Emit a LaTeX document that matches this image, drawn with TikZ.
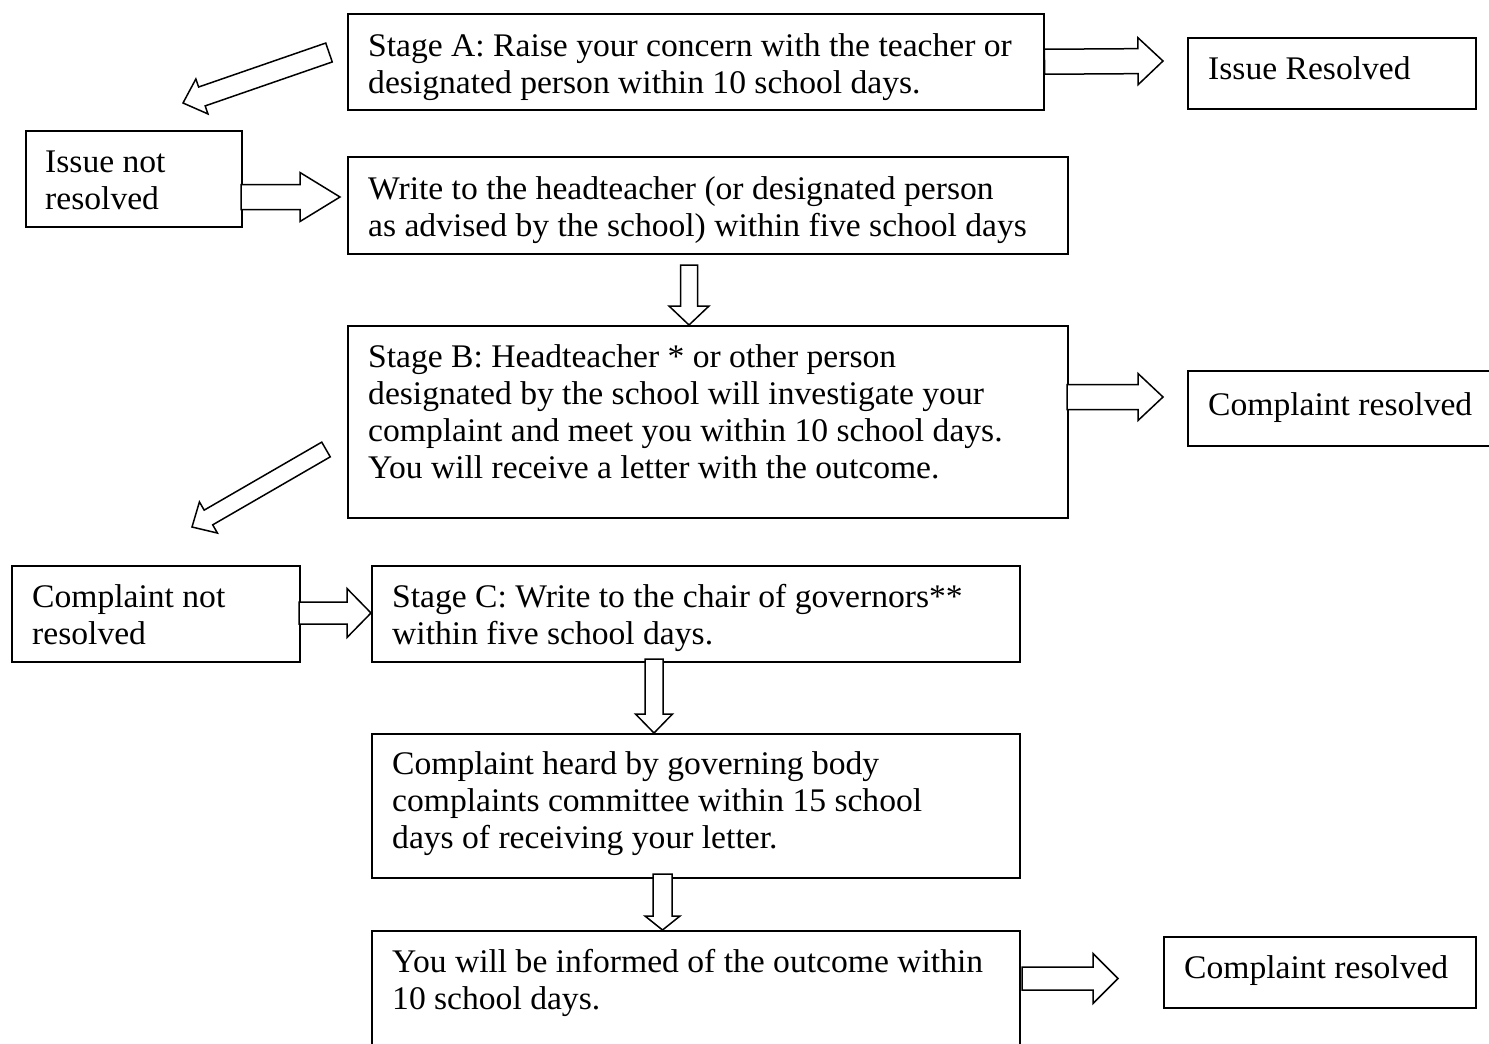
\documentclass[tikz,border=0pt]{standalone}
\usepackage{fontspec}
\setmainfont[FakeStretch=1.018]{Liberation Serif}
\usetikzlibrary{calc}
\newcommand\blockarr[5]{%
  \path let \p1=#1, \p2=#2, \n1={atan2(\y2-\y1,\x2-\x1)}, \n2={veclen(\x2-\x1,\y2-\y1)} in
    \pgfextra{\xdef\barang{\n1}\xdef\barlen{\n2}\xdef\barx{\x1}\xdef\bary{\y1}};
  \draw[barrow, shift={(\barx,\bary)}, rotate=\barang]
    (0,#3) -- (\barlen-#5,#3) -- (\barlen-#5,#4) -- (\barlen,0) --
    (\barlen-#5,-#4) -- (\barlen-#5,-#3) -- (0,-#3) -- cycle;}
\begin{document}
\begin{tikzpicture}[x=1pt,y=-1pt,
  box/.style={draw, line width=1.5pt, inner sep=0, anchor=north west},
  txt/.style={anchor=base west, align=left, inner sep=0, font=\fontsize{33}{36.7}\selectfont},
  barrow/.style={draw, line width=1.5pt, line join=miter, fill=white}]
\useasboundingbox (0,0) rectangle (1489,1044);
% boxes
\node[box, minimum width=696, minimum height=96] (A) at (347,13) {};
\node[box, minimum width=288, minimum height=71] (IR) at (1187,37) {};
\node[box, minimum width=216, minimum height=96] (INR) at (25,130) {};
\node[box, minimum width=720, minimum height=97] (W) at (347,156) {};
\node[box, minimum width=720, minimum height=192] (B) at (347,325) {};
\node[box, minimum width=320, minimum height=75] (CR1) at (1187,370) {};
\node[box, minimum width=288, minimum height=96] (CNR) at (11,565) {};
\node[box, minimum width=648, minimum height=96] (C) at (371,565) {};
\node[box, minimum width=648, minimum height=144] (H) at (371,733) {};
\node[box, minimum width=648, minimum height=140] (O) at (371,930) {};
\node[box, minimum width=312, minimum height=71] (CR2) at (1163,936) {};
% texts (anchored at the baseline of their last line)
\node[txt] (At) at (368,93) {Stage A: Raise your concern with the teacher or\\designated person within 10 school days.};
\node[txt] (IRt) at (1208,79) {Issue Resolved};
\node[txt] (INRt) at (45,209) {Issue not\\resolved};
\node[txt] (Wt) at (368,236) {Write to the headteacher (or designated person\\as advised by the school) within five school days};
\node[txt] (Bt) at (368,478) {Stage B: Headteacher * or other person\\designated by the school will investigate your\\complaint and meet you within 10 school days.\\You will receive a letter with the outcome.};
\node[txt] (CR1t) at (1208,415) {Complaint resolved};
\node[txt] (CNRt) at (32,644) {Complaint not\\resolved};
\node[txt] (Ct) at (392,644) {Stage C: Write to the chair of governors**\\within five school days.};
\node[txt] (Ht) at (392,848) {Complaint heard by governing body\\complaints committee within 15 school\\days of receiving your letter.};
\node[txt] (Ot) at (392,1009) {You will be informed of the outcome within\\10 school days.};
\node[txt] (CR2t) at (1184,978) {Complaint resolved};
% block arrows
\coordinate (a1e) at (1163,61);
\blockarr{(A.east)}{(a1e)}{12.5}{23.5}{25}
\coordinate (a2s) at (241,197); \coordinate (a2e) at (340,197);
\blockarr{(a2s)}{(a2e)}{12.5}{24.5}{40}
\coordinate (a3s) at (689,265); \coordinate (a3e) at (689,325);
\blockarr{(a3s)}{(a3e)}{8.5}{20}{19}
\coordinate (a4s) at (1067,397); \coordinate (a4e) at (1163,397);
\blockarr{(a4s)}{(a4e)}{12.5}{23.5}{25}
\coordinate (a5s) at (329,52.5); \coordinate (a5e) at (183,103);
\blockarr{(a5s)}{(a5e)}{10}{18.5}{20}
\coordinate (a6s) at (326,449.5); \coordinate (a6e) at (192,527);
\blockarr{(a6s)}{(a6e)}{8.5}{18}{19}
\coordinate (a7s) at (299,613); \coordinate (a7e) at (371,613);
\blockarr{(a7s)}{(a7e)}{11}{24.5}{24}
\coordinate (a8s) at (654,659); \coordinate (a8e) at (654,733);
\blockarr{(a8s)}{(a8e)}{9}{18.5}{19}
\coordinate (a9s) at (662.5,874); \coordinate (a9e) at (662.5,930);
\blockarr{(a9s)}{(a9e)}{9.5}{17.5}{14}
\coordinate (a10s) at (1022,978.5); \coordinate (a10e) at (1118,978.5);
\blockarr{(a10s)}{(a10e)}{11.5}{25}{25}
\end{tikzpicture}
\end{document}
